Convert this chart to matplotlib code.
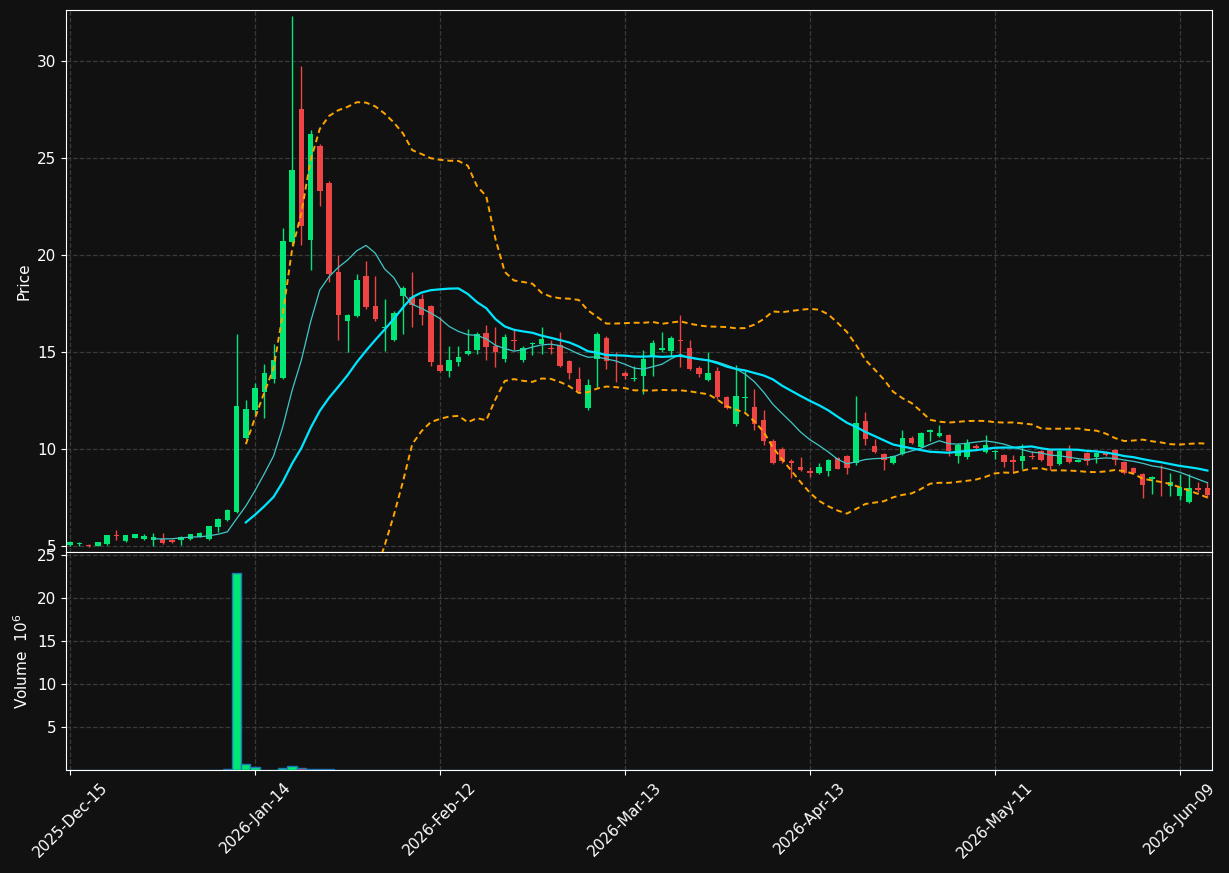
import matplotlib
matplotlib.use("Agg")
import matplotlib.pyplot as plt
import numpy as np

opens = [5.06,5.12,5.08,5.0,5.1,5.58,5.26,5.42,5.35,5.3,5.35,5.3,5.3,5.35,5.47,5.35,5.98,6.33,6.76,10.57,
         12.0,12.95,13.6,13.65,20.66,27.5,20.75,25.6,23.7,19.1,16.6,16.84,18.93,17.34,16.25,15.6,17.9,17.85,17.75,17.34,
         14.35,14.0,14.5,14.9,15.12,15.95,15.28,14.66,15.62,14.6,15.4,15.43,15.2,15.35,14.52,13.6,12.1,14.66,15.74,14.24,
         13.9,13.6,13.75,14.8,15.1,15.03,15.6,15.22,14.17,13.54,14.04,12.68,11.27,12.63,12.18,11.5,10.43,10.02,9.4,9.05,
         8.88,8.75,8.85,9.53,9.65,9.26,11.46,10.17,9.76,9.3,9.76,10.58,10.12,10.9,10.65,10.74,9.62,9.57,10.17,9.83,
         9.83,9.7,9.42,9.4,9.66,9.91,9.96,9.24,9.91,9.35,9.79,9.6,9.8,9.93,9.35,9.0,8.7,8.47,8.62,8.1,
         7.6,7.25,8.0,7.99]
closes = [5.2,5.16,5.0,5.2,5.56,5.53,5.56,5.62,5.5,5.45,5.17,5.22,5.45,5.62,5.7,6.03,6.39,6.85,12.2,12.05,
          13.13,13.9,14.56,20.7,24.35,21.5,26.2,23.3,19.0,16.9,16.9,18.68,17.3,16.7,16.3,17.0,18.3,17.44,16.9,14.5,
          14.04,14.6,14.76,15.05,15.9,15.24,14.98,15.77,15.55,15.2,15.48,15.69,15.13,14.27,13.9,12.97,13.32,15.9,14.52,14.2,
          13.75,13.68,14.66,15.48,15.2,15.74,15.55,14.1,13.85,13.9,12.66,12.1,12.75,12.7,11.3,10.4,9.3,9.36,9.26,8.92,
          8.75,9.07,9.43,8.98,9.0,11.34,10.5,9.83,9.43,9.62,10.58,10.3,10.84,11.0,10.82,9.88,10.22,10.3,10.05,10.2,
          9.9,9.31,9.33,9.66,9.57,9.45,9.14,9.91,9.35,9.45,9.4,9.79,9.7,9.42,8.75,8.75,8.16,8.57,8.59,8.3,
          8.04,7.99,7.87,7.65]
highs = [5.25,5.2,5.1,5.22,5.6,5.85,5.6,5.65,5.65,5.7,5.7,5.35,5.5,5.65,5.75,6.05,6.45,6.9,15.9,12.5,
         13.4,14.4,15.4,21.4,32.3,29.7,26.4,25.7,23.8,20.0,16.95,19.0,19.7,18.9,17.7,17.1,18.4,19.1,18.0,17.4,
         16.8,15.3,15.3,16.2,16.0,16.4,16.3,15.9,16.2,15.3,15.5,16.3,15.6,16.0,14.6,14.2,13.6,16.0,15.8,15.0,
         14.0,14.3,15.1,15.6,16.0,15.8,16.9,15.6,14.25,15.0,14.2,12.75,14.35,14.0,13.1,12.0,10.5,10.1,9.5,9.6,
         9.1,9.3,9.5,9.6,9.7,12.75,11.9,10.5,9.8,9.7,11.0,10.65,10.9,11.05,11.25,10.8,10.3,10.5,10.27,10.7,
         9.95,9.75,9.7,10.25,9.9,9.95,10.0,9.95,10.2,9.5,9.85,9.85,9.9,9.98,9.4,9.05,8.75,8.6,9.2,8.75,
         8.7,8.7,8.3,8.3]
lows = [5.0,5.0,4.97,5.0,5.08,5.3,5.24,5.4,5.33,5.0,5.1,5.15,5.05,5.32,5.45,5.33,5.75,6.3,6.7,10.5,
        11.8,11.6,13.4,13.6,20.5,20.5,19.2,22.5,18.6,15.6,15.0,16.8,17.2,16.6,15.05,15.55,15.9,16.3,16.4,14.3,
        13.95,13.7,14.3,14.85,14.9,14.6,14.2,14.5,15.1,14.5,14.85,14.9,14.9,14.2,13.6,12.9,12.0,13.2,14.1,13.45,
        13.6,13.5,12.85,13.75,15.0,14.8,14.2,14.05,13.7,13.5,12.6,12.05,11.2,11.95,11.0,10.2,9.25,9.3,8.5,8.85,
        8.55,8.7,8.6,8.95,8.7,9.2,10.2,9.8,8.9,9.25,9.7,10.25,10.1,10.4,10.6,9.65,9.3,9.5,10.0,9.8,
        9.5,9.1,8.8,8.95,9.5,9.4,8.9,9.2,9.3,9.33,9.2,9.3,9.65,9.2,8.7,8.7,7.5,7.7,7.6,7.6,
        7.4,7.2,7.8,7.5]
volumes = [0.02,0.01,0.01,0.02,0.03,0.02,0.02,0.02,0.01,0.02,0.02,0.01,0.02,0.02,0.03,0.04,0.05,0.06,22.9,0.7,
           0.35,0.05,0.05,0.2,0.45,0.2,0.1,0.08,0.06,0.05,0.03,0.03,0.04,0.03,0.03,0.03,0.03,0.02,0.02,0.03,
           0.03,0.02,0.02,0.02,0.02,0.02,0.03,0.02,0.02,0.03,0.03,0.03,0.03,0.02,0.02,0.02,0.02,0.03,0.02,0.02,
           0.02,0.02,0.02,0.02,0.02,0.02,0.02,0.02,0.02,0.02,0.02,0.02,0.02,0.02,0.02,0.02,0.02,0.02,0.02,0.02,
           0.02,0.02,0.02,0.02,0.02,0.03,0.02,0.02,0.02,0.02,0.02,0.02,0.02,0.02,0.02,0.02,0.02,0.02,0.02,0.02,
           0.02,0.02,0.02,0.02,0.02,0.02,0.02,0.02,0.02,0.02,0.02,0.02,0.02,0.02,0.02,0.02,0.02,0.02,0.02,0.02,
           0.02,0.02,0.02,0.02]
tick_pos = [0, 20, 40, 60, 80, 100, 120]
tick_labels = ["2025-Dec-15", "2026-Jan-14", "2026-Feb-12", "2026-Mar-13",
               "2026-Apr-13", "2026-May-11", "2026-Jun-09"]

o = np.array(opens); c = np.array(closes); h = np.array(highs); l = np.array(lows)
v = np.array(volumes)
x = np.arange(len(c))
UP, DOWN, BG = "#00e676", "#ef4444", "#111111"

def sma(a, n):
    out = np.full(len(a), np.nan)
    for i in range(n - 1, len(a)):
        out[i] = a[i - n + 1:i + 1].mean()
    return out

def sstd(a, n):
    out = np.full(len(a), np.nan)
    for i in range(n - 1, len(a)):
        out[i] = a[i - n + 1:i + 1].std()
    return out

ma10 = sma(c, 10); ma20 = sma(c, 20); sd = sstd(c, 20)

fig = plt.figure(figsize=(12.29, 8.73), dpi=100, facecolor=BG)
ax = fig.add_axes([0.0537, 0.3677, 0.9325, 0.6208], facecolor=BG)
axv = fig.add_axes([0.0537, 0.118, 0.9325, 0.2497], facecolor=BG, sharex=ax)

cols = [UP if cc >= oo else DOWN for oo, cc in zip(o, c)]
ax.vlines(x, l, h, colors=cols, linewidth=1, zorder=3)
ax.bar(x, np.maximum(np.abs(c - o), 0.04), bottom=np.minimum(o, c), width=0.6, color=cols, zorder=4)
ax.plot(x, ma10, color="#40c8c8", lw=0.9, zorder=5)
ax.plot(x, ma20, color="#00e5ff", lw=1.6, zorder=5)
ax.plot(x, ma20 + 2 * sd, color="#ffa500", lw=1.4, ls=(0, (3, 2)), zorder=5)
ax.plot(x, ma20 - 2 * sd, color="#ffa500", lw=1.4, ls=(0, (3, 2)), zorder=5)
ax.set_ylim(4.7, 32.6)
ax.set_yticks([5, 10, 15, 20, 25, 30])
ax.set_ylabel("Price", color="white", fontsize=11)

axv.bar(x, v, width=1.0, color=cols, edgecolor="#1f77b4", linewidth=1, zorder=3)
axv.set_ylim(0, 25.3)
axv.set_yticks([5, 10, 15, 20, 25])
axv.set_ylabel("Volume  $10^6$", color="white", fontsize=11)

for a in (ax, axv):
    a.grid(True, color="#3a3a3a", ls="--", lw=0.9)
    a.set_axisbelow(True)
    a.tick_params(colors="white", labelsize=11)
    for s in a.spines.values():
        s.set_color("white")
ax.set_xlim(-0.45, 123.5)
ax.tick_params(axis="x", labelbottom=False)
axv.set_xticks(tick_pos)
axv.set_xticklabels(tick_labels, rotation=45, ha="center")
fig.savefig("out.png", dpi=100, facecolor=BG)
